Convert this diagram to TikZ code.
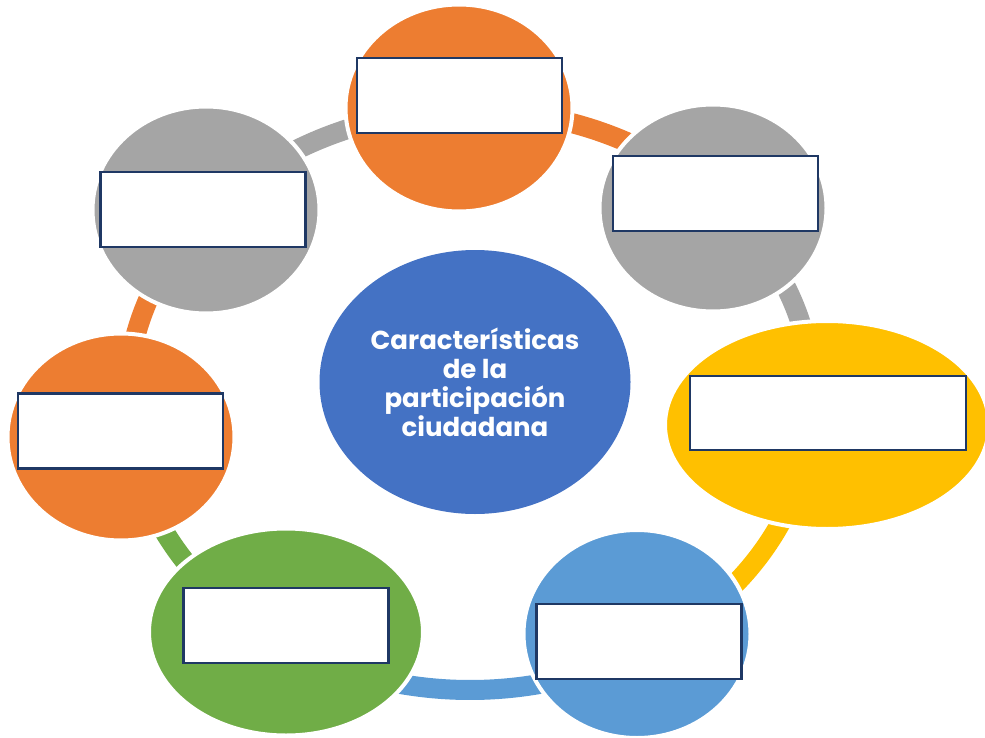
\documentclass[tikz,border=0pt]{standalone}
\usepackage{fontspec}
\setsansfont{Poppins}
\usetikzlibrary{shapes.geometric}
\definecolor{accOrange}{HTML}{ED7D31}
\definecolor{accGray}{HTML}{A5A5A5}
\definecolor{accGold}{HTML}{FFC000}
\definecolor{accSky}{HTML}{5B9BD5}
\definecolor{accGreen}{HTML}{70AD47}
\definecolor{accBlue}{HTML}{4472C4}
\definecolor{boxNavy}{HTML}{1F3864}

\begin{document}
\begin{tikzpicture}[x=1pt,y=-1pt,
  bubble/.style={ellipse,draw=white,line width=4pt,inner sep=0pt},
  textbox/.style={rectangle,draw=boxNavy,fill=white,line width=2.4pt,
    minimum width=205pt,minimum height=75pt,inner sep=0pt},
  ringarc/.style={line width=20pt}]
\useasboundingbox (0,0) rectangle (985,738);
% ---------- cycle ring ----------
\coordinate (ring) at (470,400);
\draw[ringarc,accOrange] (ring) ++(-92:343 and 290) arc[start angle=-92,end angle=-43,x radius=343,y radius=290];
\draw[ringarc,accGray] (ring) ++(-43:343 and 290) arc[start angle=-43,end angle=5,x radius=343,y radius=290];
\draw[ringarc,accGold] (ring) ++(5:343 and 290) arc[start angle=5,end angle=59,x radius=343,y radius=290];
\draw[ringarc,accSky] (ring) ++(59:343 and 290) arc[start angle=59,end angle=124,x radius=343,y radius=290];
\draw[ringarc,accGreen] (ring) ++(124:343 and 290) arc[start angle=124,end angle=174,x radius=343,y radius=290];
\draw[ringarc,accOrange] (ring) ++(174:343 and 290) arc[start angle=174,end angle=221,x radius=343,y radius=290];
\draw[ringarc,accGray] (ring) ++(221:343 and 290) arc[start angle=221,end angle=268,x radius=343,y radius=290];
% ---------- outer bubbles ----------
\node[bubble,fill=accOrange,minimum width=227pt,minimum height=207pt] (top) at (459,108) {};
\node[bubble,fill=accGray,minimum width=227pt,minimum height=207pt] (topright) at (713,208) {};
\node[bubble,fill=accGold,minimum width=324pt,minimum height=208pt] (right) at (827,425) {};
\node[bubble,fill=accSky,minimum width=227pt,minimum height=208pt] (botright) at (637,634) {};
\node[bubble,fill=accGreen,minimum width=274pt,minimum height=207pt] (botleft) at (286,632) {};
\node[bubble,fill=accOrange,minimum width=227pt,minimum height=207pt] (left) at (121,437) {};
\node[bubble,fill=accGray,minimum width=227pt,minimum height=207pt] (topleft) at (206,210) {};
% ---------- empty text boxes ----------
\node[textbox] (topbox) at (459.5,95.5) {};
\node[textbox] (toprightbox) at (715.5,193.5) {};
\node[textbox,minimum width=276pt,minimum height=74pt] (rightbox) at (828,413) {};
\node[textbox] (botrightbox) at (639,641.5) {};
\node[textbox] (botleftbox) at (286,625.5) {};
\node[textbox] (leftbox) at (120.5,431) {};
\node[textbox] (topleftbox) at (203,209.5) {};
% ---------- centre ----------
\node[bubble,fill=accBlue,draw=none,minimum width=311pt,minimum height=264pt,
  text=white,align=center,font=\sffamily\bfseries\fontsize{26}{29}\selectfont] (centre) at (475,382)
  {Características\\de la\\participación\\ciudadana};
\end{tikzpicture}
\end{document}
